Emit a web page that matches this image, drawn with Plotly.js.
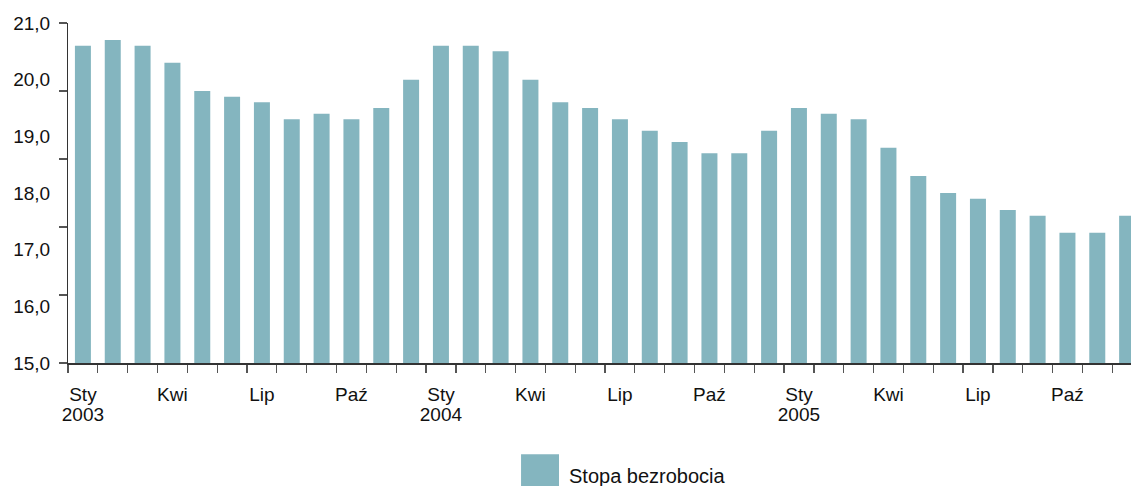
<!DOCTYPE html>
<html>
<head>
<meta charset="utf-8">
<script src="https://cdn.plot.ly/plotly-3.0.1.min.js"></script>
<style>html,body{margin:0;padding:0;background:#fff;}#chart{width:1131px;height:486px;}</style>
</head>
<body>
<div id="chart"></div>
<script>
// Monthly categories Jan 2003 – Dec 2005
var categories = [
  '2003-01','2003-02','2003-03','2003-04','2003-05','2003-06','2003-07','2003-08','2003-09','2003-10','2003-11','2003-12',
  '2004-01','2004-02','2004-03','2004-04','2004-05','2004-06','2004-07','2004-08','2004-09','2004-10','2004-11','2004-12',
  '2005-01','2005-02','2005-03','2005-04','2005-05','2005-06','2005-07','2005-08','2005-09','2005-10','2005-11','2005-12'
];
// Unemployment rate (%)
var stopaBezrobocia = [
  20.6, 20.7, 20.6, 20.3, 19.8, 19.7, 19.6, 19.3, 19.4, 19.3, 19.5, 20.0,
  20.6, 20.6, 20.5, 20.0, 19.6, 19.5, 19.3, 19.1, 18.9, 18.7, 18.7, 19.1,
  19.5, 19.4, 19.3, 18.8, 18.3, 18.0, 17.9, 17.7, 17.6, 17.3, 17.3, 17.6
];
// X tick labels: month names (one per month, blank where not shown)
var monthTickLabels = [
  'Sty','','','Kwi','','','Lip','','','Paź','','',
  'Sty','','','Kwi','','','Lip','','','Paź','','',
  'Sty','','','Kwi','','','Lip','','','Paź','',''
];
// Year labels under January
var yearTickCats = ['2003-01', '2004-01', '2005-01'];
var yearTickLabels = ['2003', '2004', '2005'];
var yTickValues = [15, 16, 17, 18, 19, 20, 21];
var yTickLabels = ['15,0', '16,0', '17,0', '18,0', '19,0', '20,0', '21,0'];
var seriesName = 'Stopa bezrobocia';

var barColor = '#84b5bf';
var fontFam = 'Liberation Sans, Arial, sans-serif';
var xRange = [-0.5, 35.13];

var traces = [
  {
    type: 'bar',
    x: categories,
    y: stopaBezrobocia,
    name: seriesName,
    marker: {color: barColor, line: {width: 0}},
    showlegend: false,
    hoverinfo: 'x+y'
  },
  {
    type: 'scatter',
    x: [0],
    y: [0],
    xaxis: 'x2',
    yaxis: 'y2',
    mode: 'none',
    hoverinfo: 'skip',
    showlegend: false
  }
];

var layout = {
  width: 1131,
  height: 486,
  margin: {l: 68, r: 0, t: 23, b: 123, pad: 0},
  paper_bgcolor: '#ffffff',
  plot_bgcolor: '#ffffff',
  showlegend: false,
  bargap: 0.464,
  font: {family: fontFam, size: 19, color: '#111111'},
  xaxis: {
    type: 'category',
    range: xRange,
    tickmode: 'array',
    tickvals: categories,
    ticktext: monthTickLabels,
    tickson: 'boundaries',
    ticks: 'outside',
    ticklen: 8,
    tickwidth: 1.3,
    tickcolor: '#555555',
    ticklabelstandoff: 14,
    showline: true,
    linecolor: '#333333',
    linewidth: 1.5,
    showgrid: false,
    zeroline: false,
    tickangle: 0,
    tickfont: {family: fontFam, size: 19, color: '#111111'}
  },
  xaxis2: {
    type: 'linear',
    overlaying: 'x',
    anchor: 'y',
    side: 'bottom',
    range: xRange,
    tickmode: 'array',
    tickvals: yearTickCats.map(function (c) { return categories.indexOf(c); }),
    ticktext: yearTickLabels,
    ticks: 'outside',
    ticklen: 8,
    tickcolor: 'rgba(0,0,0,0)',
    ticklabelstandoff: 26,
    showline: false,
    showgrid: false,
    zeroline: false,
    tickangle: 0,
    tickfont: {family: fontFam, size: 19, color: '#111111'}
  },
  yaxis: {
    range: [15, 21],
    tickmode: 'array',
    tickvals: yTickValues,
    ticktext: yTickLabels,
    ticks: 'outside',
    ticklen: 13,
    tickcolor: 'rgba(0,0,0,0)',
    showline: false,
    showgrid: false,
    zeroline: false,
    tickfont: {family: fontFam, size: 19, color: '#111111'}
  },
  yaxis2: {
    overlaying: 'y',
    side: 'left',
    range: [0, 5],
    tickmode: 'array',
    tickvals: [0, 1, 2, 3, 4, 5],
    ticks: 'outside',
    ticklen: 8,
    tickwidth: 1.3,
    tickcolor: '#555555',
    showticklabels: false,
    showline: true,
    linecolor: '#333333',
    linewidth: 1.5,
    showgrid: false,
    zeroline: false
  },
  shapes: [
    {type: 'rect', xref: 'paper', yref: 'paper', x0: 0.4262, x1: 0.4619, y0: -0.2685, y1: -0.375,
     fillcolor: barColor, line: {width: 0}, layer: 'above'}
  ],
  annotations: [
    {xref: 'paper', yref: 'paper', x: 0.4694, y: -0.333, xanchor: 'left', yanchor: 'middle',
     text: seriesName, showarrow: false, font: {family: fontFam, size: 20, color: '#111111'}}
  ]
};

Plotly.newPlot('chart', traces, layout, {displayModeBar: false, staticPlot: true});
</script>
</body>
</html>
